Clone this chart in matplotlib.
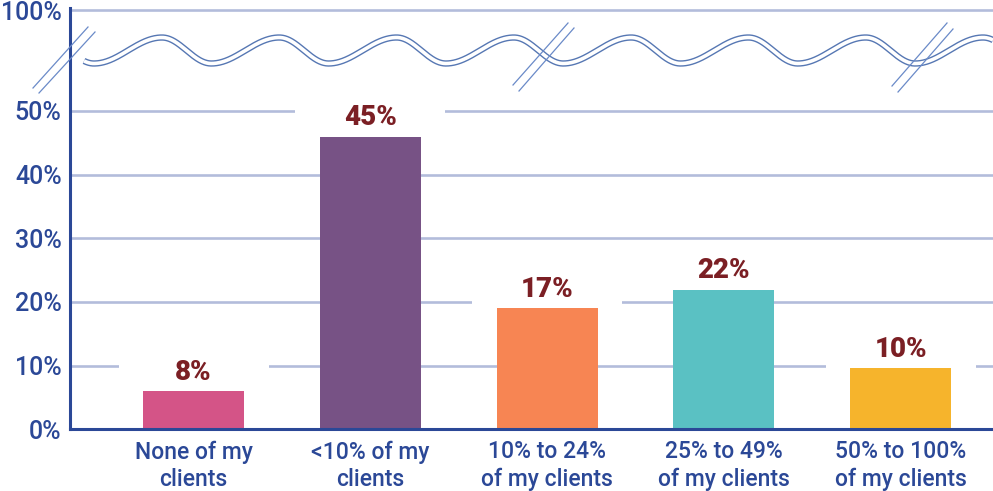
import numpy as np
import matplotlib
matplotlib.use("Agg")
import matplotlib.pyplot as plt
from matplotlib.patches import Rectangle

# ---- data ----
categories = ["None of my\nclients", "<10% of my\nclients", "10% to 24%\nof my clients",
              "25% to 49%\nof my clients", "50% to 100%\nof my clients"]
values = [8, 45, 17, 22, 10]                 # labelled values
bar_heights = [6.0, 45.9, 19.0, 21.9, 9.6]   # heights as drawn in the reference
ytick_values = [0, 10, 20, 30, 40, 50]
ytick_labels = ["0%", "10%", "20%", "30%", "40%", "50%"]
top_tick_label = "100%"

bar_colors = ["#d45487", "#775285", "#f78553", "#5ac1c3", "#f6b42c"]
axis_color = "#2b4897"
grid_color = "#b3bcdb"
label_color = "#7b1f24"
wave_color = "#5677b3"

plt.rcParams["font.family"] = ["Roboto", "DejaVu Sans"]

W, H = 993, 491
fig = plt.figure(figsize=(W / 100, H / 100), dpi=100)

# axes geometry in pixels
x0, x1 = 70, 993
y_bottom, y_top = 429.3, 8
px_per_unit = 6.37
ax = fig.add_axes([x0 / W, (H - y_bottom) / H, (x1 - x0) / W, (y_bottom - y_top) / H])
ymax = (y_bottom - y_top) / px_per_unit
top_pos = (y_bottom - 10) / px_per_unit   # position of the 100% line (broken axis)
ax.set_ylim(0, ymax)
spacing = 176.8
c0 = 193.5
ax.set_xlim((x0 - c0) / spacing, (x1 - c0) / spacing)

xpos = np.arange(len(categories))
bar_w = 101 / spacing

# gridlines
for yv in ytick_values[1:] + [top_pos]:
    ax.axhline(yv, color=grid_color, lw=1.9, zorder=0.5)

# white boxes behind labels (hide gridlines)
box_w = 150 / spacing
box_h = 30 / px_per_unit
for xi, h in zip(xpos, bar_heights):
    ax.add_patch(Rectangle((xi - box_w / 2, h), box_w, box_h, facecolor="white",
                           edgecolor="none", zorder=1))

ax.bar(xpos, bar_heights, width=bar_w, color=bar_colors, zorder=2)

for xi, h, v in zip(xpos, bar_heights, values):
    ax.annotate(f"{v}%", (xi, h), xytext=(0, 4), textcoords="offset points",
                ha="center", va="bottom", fontsize=20, fontweight="heavy",
                color=label_color, zorder=3)

for s in ["top", "right"]:
    ax.spines[s].set_visible(False)
for s in ["left", "bottom"]:
    ax.spines[s].set_color(axis_color)
    ax.spines[s].set_linewidth(2.2)
    ax.spines[s].set_zorder(4)

ax.set_yticks(ytick_values + [top_pos])
ax.set_yticklabels(ytick_labels + [top_tick_label], fontweight="medium")
ax.tick_params(axis="y", length=0, pad=6, labelsize=18, labelcolor=axis_color)
ax.set_xticks(xpos)
ax.set_xticklabels(categories, linespacing=1.25, fontweight="medium")
ax.tick_params(axis="x", length=0, pad=8, labelsize=16.5, labelcolor=axis_color)

# ---- decorative break marks (pixel overlay) ----
ov = fig.add_axes([0, 0, 1, 1], zorder=5)
ov.set_xlim(0, W)
ov.set_ylim(H, 0)
ov.axis("off")
ov.patch.set_alpha(0)

xw = np.linspace(84, 993, 3000)
period = 117.3
p = ((xw - 162) / period) % 1.0
mid, amp = 50.5, 13.0
fall = 0.42
yw = np.where(p < fall, mid - amp * np.cos(np.pi * p / fall),
              mid + amp * np.cos(np.pi * (p - fall) / (1 - fall)))
ov.plot(xw, yw, color=wave_color, lw=4.6, solid_capstyle="butt")
ov.plot(xw, yw, color="white", lw=2.6, solid_capstyle="butt")

slashes = [((33, 88), (88, 27)), ((39, 93), (95, 32)),
           ((513, 85), (568, 23)), ((519, 91), (574, 28)),
           ((892, 86), (947, 23)), ((898, 92), (953, 29))]
for (xa, ya), (xb, yb) in slashes:
    ov.plot([xa, xb], [ya, yb], color="#6a8ac8", lw=0.9)

fig.savefig("out.png", dpi=100)
